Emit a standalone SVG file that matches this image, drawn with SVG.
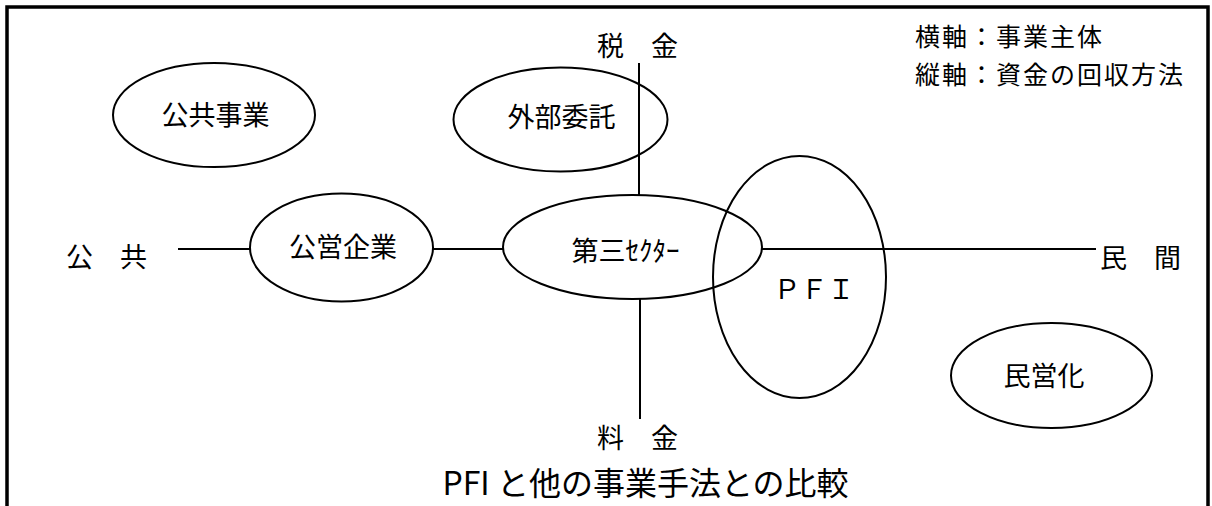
<svg xmlns="http://www.w3.org/2000/svg" width="1212" height="506" viewBox="0 0 1212 506">
<style>
  .node ellipse { fill: none; stroke: #000; stroke-width: 2; }
  .conn line { stroke: #000; stroke-width: 2; }
  text { font-family: "Noto Sans CJK JP", "Noto Sans", sans-serif; fill: #000; dominant-baseline: central; }
  .lbl { font-size: 27px; text-anchor: middle; }
  .ax { font-size: 27px; }
  .lg { font-size: 25px; letter-spacing: 2px; }
</style>
<rect x="0" y="0" width="1212" height="506" fill="#fff"/>
<path d="M7,506 V7 H1208 V506" fill="none" stroke="#000" stroke-width="3.5"/>

<g class="conn" id="connectors">
  <line x1="639" y1="63" x2="639" y2="195"/>
  <line x1="640" y1="299" x2="640" y2="419"/>
  <line x1="178" y1="249" x2="250" y2="249"/>
  <line x1="433" y1="249" x2="503" y2="249"/>
  <line x1="762" y1="249" x2="1096" y2="249"/>
</g>

<g id="axis-labels">
  <text class="ax" x="597" y="44.5">税　金</text>
  <text class="ax" x="597" y="436.5">料　金</text>
  <text class="ax" x="66" y="255.5">公　共</text>
  <text class="ax" x="1100" y="256.5">民　間</text>
</g>

<g id="legend">
  <text class="lg" x="915" y="35">横軸：事業主体</text>
  <text class="lg" x="915" y="72.5">縦軸：資金の回収方法</text>
</g>

<g class="node" id="node-koukyou-jigyou">
  <ellipse cx="214" cy="115" rx="101" ry="52"/>
  <text class="lbl" x="215.5" y="113.5">公共事業</text>
</g>
<g class="node" id="node-gaibu-itaku">
  <ellipse cx="560.5" cy="119.5" rx="107" ry="52"/>
  <text class="lbl" x="561.5" y="115.5">外部委託</text>
</g>
<g class="node" id="node-kouei-kigyou">
  <ellipse cx="341.5" cy="247.5" rx="91.5" ry="54"/>
  <text class="lbl" x="343" y="245.5">公営企業</text>
</g>
<g class="node" id="node-daisan-sector">
  <ellipse cx="632.5" cy="247" rx="129.5" ry="52"/>
  <text class="lbl" x="625.5" y="249.5">第三ｾｸﾀｰ</text>
</g>
<g class="node" id="node-pfi">
  <ellipse cx="799.5" cy="277" rx="86.5" ry="121"/>
  <text class="lbl" x="814" y="287.5">ＰＦＩ</text>
</g>
<g class="node" id="node-min-eika">
  <ellipse cx="1051.5" cy="375.5" rx="100.5" ry="52.5"/>
  <text class="lbl" x="1044" y="374">民営化</text>
</g>

<text id="caption" x="645.5" y="480.5" font-size="32" text-anchor="middle">PFI と他の事業手法との比較</text>
</svg>
